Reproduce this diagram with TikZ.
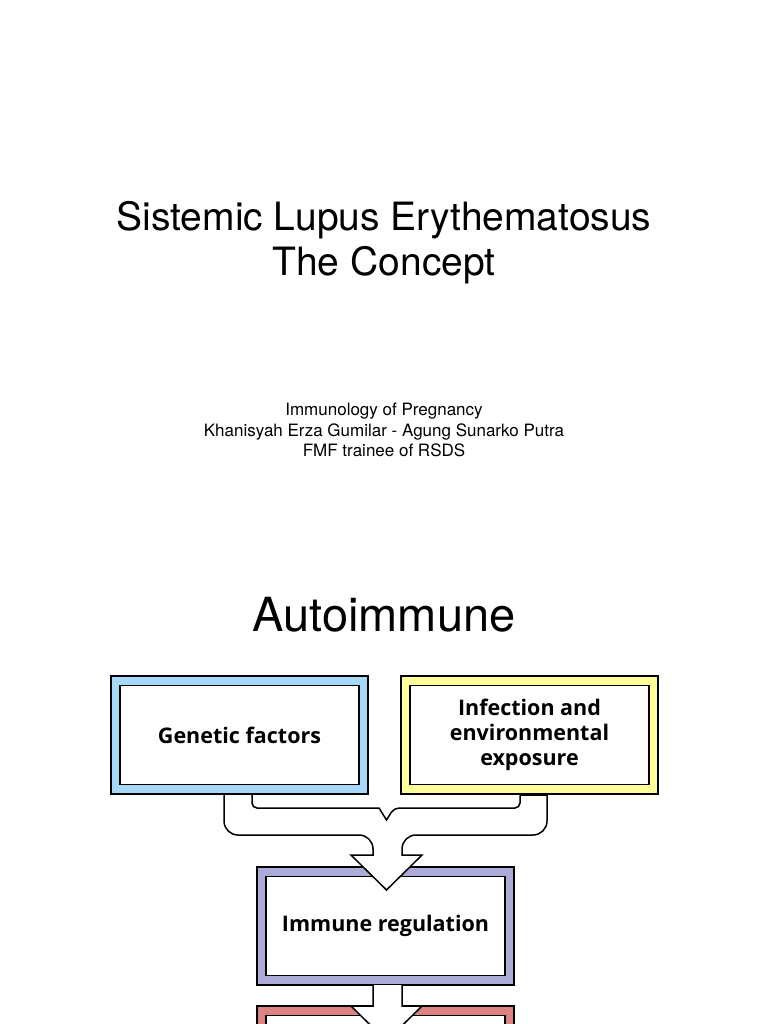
\documentclass[tikz,border=0pt]{standalone}
\usepackage{fontspec}
\setmainfont{TeX Gyre Heros}
\newfontfamily\boxfont{Open Sans}
\definecolor{genblue}{RGB}{166,216,248}
\definecolor{envyellow}{RGB}{255,255,153}
\definecolor{immpurple}{RGB}{172,170,214}
\definecolor{disred}{RGB}{220,130,130}
\tikzset{
  outer_box/.style={rectangle,draw=black,line width=2pt,minimum width=257pt,minimum height=118pt,inner sep=0pt},
  inner_box/.style={rectangle,draw=black,fill=white,line width=1.5pt,minimum width=239pt,minimum height=99pt,
    align=center,font=\boxfont\bfseries\fontsize{21.5}{25}\selectfont,inner sep=0pt},
}
\begin{document}
\begin{tikzpicture}[
  x=1pt,y=1pt,
  arrow_body/.style={draw=black,fill=white,line width=1.5pt,line join=miter},
  ]
  \useasboundingbox (0,0) rectangle (768,-1024);
  \clip (0,0) rectangle (768,-1024);
  \fill[white] (0,0) rectangle (768,-1024);

  \node (title) at (384,-244) {\fontsize{39}{45}\selectfont\begin{tabular}{c}Sistemic Lupus Erythematosus\\The Concept\end{tabular}};
  \node (authors) at (384,-432) {\fontsize{17}{20.5}\selectfont\begin{tabular}{c}Immunology of Pregnancy\\Khanisyah Erza Gumilar - Agung Sunarko Putra\\FMF trainee of RSDS\end{tabular}};
  \node (head) at (384,-615) {\fontsize{47}{55}\selectfont Autoimmune};

  \node[outer_box,fill=genblue] (genes_o) at (239.5,-735) {};
  \node[inner_box] (genes) at (genes_o.center) {Genetic factors};
  \node[outer_box,fill=envyellow] (infect_o) at (529.5,-735) {};
  \node[inner_box] (infect) at (infect_o.center) {Infection and\\environmental\\exposure};
  \node[outer_box,fill=immpurple] (immune_o) at (385.5,-926) {};
  \node[inner_box] (immune) at (immune_o.center) {Immune regulation};
  \node[outer_box,fill=disred] (disease_o) at (385.5,-1065) {};
  \node[inner_box] (disease) at (disease_o.center) {};

  % merging arrow
  \draw[arrow_body] (224,-795) [rounded corners=14pt] -- (224,-835) -- (373,-835) [sharp corners] -- (373,-855)
    -- (351,-855) -- (386.5,-890) -- (422,-855) -- (402,-855) [rounded corners=14pt] -- (402,-835) -- (547,-835)
    [sharp corners] -- (547,-795) -- (520,-795) [rounded corners=5pt] -- (520,-808) -- (394,-808) [sharp corners]
    -- (386.5,-820) -- (379,-808) [rounded corners=5pt] -- (252,-808) [sharp corners] -- (252,-795);
  % lower arrow
  \draw[arrow_body] (373,-985) -- (373,-1006) -- (351,-1006) -- (386.5,-1041) -- (422,-1006) -- (402,-1006) -- (402,-985);
\end{tikzpicture}
\end{document}
